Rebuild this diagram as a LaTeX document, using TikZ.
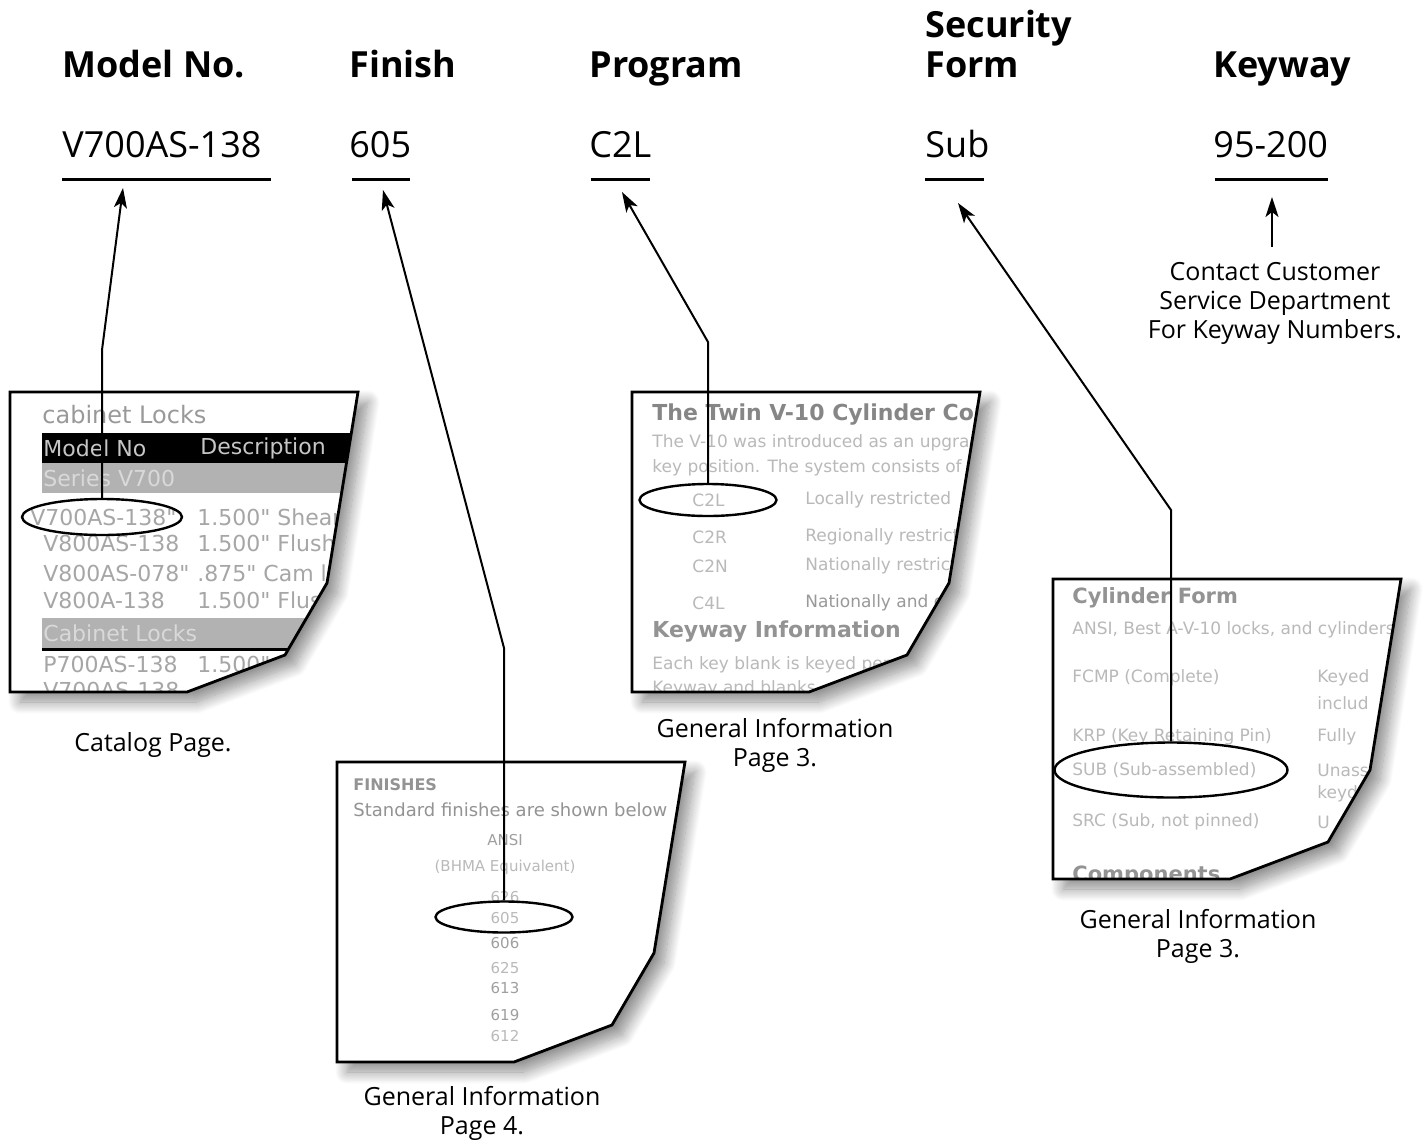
\documentclass[tikz,border=0pt]{standalone}
\usepackage{fontspec}
\setmainfont{Open Sans}
\newfontfamily\pagefont{DejaVu Sans}
\usetikzlibrary{arrows.meta,positioning,shapes.geometric,shadows.blur}
\tikzset{
  heading/.style={anchor=base west, inner sep=0pt, align=left, font=\bfseries\fontsize{18}{20}\selectfont},
  value/.style={anchor=base west, inner sep=0pt, font=\fontsize{18}{20}\selectfont},
  uline/.style={line width=1.5pt},
  caption/.style={align=center, inner sep=0pt, font=\fontsize{12.5}{14.5}\selectfont},
  ring/.style={draw, ellipse, line width=1.2pt, inner sep=0pt},
  flow/.style={-{Stealth[length=10pt, width=6.5pt, inset=2.5pt]}, line width=1pt},
  sheetshadow/.style={fill=white, blur shadow={shadow xshift=5pt, shadow yshift=-5pt, shadow blur radius=6pt, shadow blur steps=16, shadow opacity=45}},
  sheetline/.style={draw=black, line width=1.4pt, line join=miter},
  ptxt/.style={anchor=west, inner sep=0pt, text=gray!55, font=\pagefont\fontsize{8.5}{9}\selectfont},
  phead/.style={ptxt, text=gray!85, font=\pagefont\bfseries\fontsize{10.5}{11}\selectfont}
}
\newcommand\sheetpath{(0,0) -- (348,0) -- (317,191) -- (275,263) -- (177,300) -- (0,300) -- cycle}

\begin{document}
\begin{tikzpicture}[x=0.5pt, y=-0.5pt]
\useasboundingbox (0,0) rectangle (1426,1142);

% headings and values
\node[heading] (hmodel) at (62,77) {Model No.};
\node[heading] (hfinish) at (349,77) {Finish};
\node[heading] (hprog) at (589,77) {Program};
\node[heading] (hsec) at (925,77) {Security\\Form};
\node[heading] (hkey) at (1213,77) {Keyway};

\node[value] (vmodel) at (62,157) {V700AS-138};
\node[value] (vfinish) at (349,157) {605};
\node[value] (vprog) at (589,157) {C2L};
\node[value] (vsec) at (925,157) {Sub};
\node[value] (vkey) at (1213,157) {95-200};

\draw[uline] (62,179) -- (271,179);
\draw[uline] (352,179) -- (410,179);
\draw[uline] (591,179) -- (650,179);
\draw[uline] (925,179) -- (984,179);
\draw[uline] (1215,179) -- (1328,179);

% catalog page
\begin{scope}[shift={(10,392)}]
  \path[sheetshadow] \sheetpath;
  \begin{scope}
    \clip \sheetpath;
    \node[ptxt, text=gray!80, font=\pagefont\fontsize{12}{13}\selectfont] at (32,23) {cabinet Locks};
    \fill[black] (32,41) rectangle (360,71);
    \fill[gray!60] (32,71) rectangle (360,101);
    \fill[gray!60] (32,226) rectangle (360,256);
    \draw[line width=1.5pt] (32,257) -- (360,257);
    \begin{scope}[every node/.style={ptxt, text=gray!70, font=\pagefont\fontsize{11}{12}\selectfont}]
      \node[text=gray!45] at (33,56) {Model No};
      \node[text=gray!45] at (190,56) {Description};
      \node[text=gray!30] at (33,86) {Series V700};
      \node at (20,125) {V700AS-138"};
      \node at (187,125) {1.500" Shear lock};
      \node at (33,151) {V800AS-138};
      \node at (187,151) {1.500" Flush mount};
      \node at (33,181) {V800AS-078"};
      \node at (187,181) {.875" Cam lock};
      \node at (33,208) {V800A-138};
      \node at (187,208) {1.500" Flush};
      \node[text=gray!30] at (33,241) {Cabinet Locks};
      \node at (33,272) {P700AS-138};
      \node at (187,272) {1.500" Flush};
      \node at (33,298) {V700AS-138};
    \end{scope}
  \end{scope}
  \path[sheetline] \sheetpath;
\end{scope}

% program page
\begin{scope}[shift={(632,392)}]
  \path[sheetshadow] \sheetpath;
  \begin{scope}
    \clip \sheetpath;
    \node[phead, text=gray!95, font=\pagefont\bfseries\fontsize{11}{12}\selectfont] at (20,23) {The Twin V-10 Cylinder Concept};
    \node[ptxt] at (20,51) {The V-10 was introduced as an upgrade};
    \node[ptxt] at (20,76) {key position. The system consists of};
    \node[ptxt] at (60,108) {C2L};
    \node[ptxt] at (173,108) {Locally restricted};
    \node[ptxt] at (60,145) {C2R};
    \node[ptxt] at (173,145) {Regionally restricted};
    \node[ptxt] at (60,174) {C2N};
    \node[ptxt] at (173,174) {Nationally restricted};
    \node[ptxt] at (60,211) {C4L};
    \node[ptxt, text=gray!80] at (173,211) {Nationally and globally};
    \node[phead, font=\pagefont\bfseries\fontsize{11}{12}\selectfont] at (20,240) {Keyway Information};
    \node[ptxt] at (20,273) {Each key blank is keyed per program};
    \node[ptxt] at (20,297) {Keyway and blanks};
  \end{scope}
  \path[sheetline] \sheetpath;
\end{scope}

% security form page
\begin{scope}[shift={(1053,579)}]
  \path[sheetshadow] \sheetpath;
  \begin{scope}
    \clip \sheetpath;
    \node[phead] at (19,19) {Cylinder Form};
    \node[ptxt] at (19,51) {ANSI, Best A-V-10 locks, and cylinders};
    \node[ptxt] at (19,99) {FCMP (Complete)};
    \node[ptxt] at (264,99) {Keyed};
    \node[ptxt] at (264,124) {includ};
    \node[ptxt] at (19,158) {KRP (Key Retaining Pin)};
    \node[ptxt] at (264,158) {Fully};
    \node[ptxt] at (19,191) {SUB (Sub-assembled)};
    \node[ptxt] at (264,191) {Unass};
    \node[ptxt] at (264,215) {keyd};
    \node[ptxt] at (19,243) {SRC (Sub, not pinned)};
    \node[ptxt] at (264,243) {U};
    \node[phead] at (19,297) {Components};
  \end{scope}
  \path[sheetline] \sheetpath;
\end{scope}

% finishes page
\begin{scope}[shift={(337,762)}]
  \path[sheetshadow] \sheetpath;
  \begin{scope}
    \clip \sheetpath;
    \node[phead, font=\pagefont\bfseries\fontsize{8}{9}\selectfont] at (16,23) {FINISHES};
    \node[ptxt, text=gray!85, font=\pagefont\fontsize{9}{10}\selectfont] at (16,48) {Standard finishes are shown below};
    \begin{scope}[every node/.style={ptxt, anchor=center, font=\pagefont\fontsize{7.5}{8}\selectfont}]
      \node[text=gray!75] at (168,78) {ANSI};
      \node at (168,105) {(BHMA Equivalent)};
      \node at (168,135) {626};
      \node at (168,156) {605};
      \node[text=gray!75] at (168,181) {606};
      \node at (168,206) {625};
      \node[text=gray!75] at (168,226) {613};
      \node[text=gray!75] at (168,253) {619};
      \node at (168,274) {612};
    \end{scope}
  \end{scope}
  \path[sheetline] \sheetpath;
\end{scope}

% captions
\node[caption] (cap1) at (153,745) {Catalog Page.};
\node[caption] (cap2) at (775,745) {General Information\\Page 3.};
\node[caption] (cap3) at (1198,936) {General Information\\Page 3.};
\node[caption] (cap4) at (482,1113) {General Information\\Page 4.};
\node[caption] (contact) at (1275,303) {Contact Customer\\Service Department\\For Keyway Numbers.};

% circled entries
\node[ring, minimum width=80pt, minimum height=18pt] (mell) at (102,517) {};
\node[ring, minimum width=68.5pt, minimum height=15.5pt] (fell) at (504,917) {};
\node[ring, minimum width=68.5pt, minimum height=16pt] (pell) at (708,500) {};
\node[ring, minimum width=116.5pt, minimum height=27.5pt] (sell) at (1171,770) {};

% arrows
\coordinate (mbend) at (102,350);
\coordinate (mtip) at (123,188);
\coordinate (fbend) at (504,648);
\coordinate (ftip) at (383,190);
\coordinate (pbend) at (708,342);
\coordinate (ptip) at (622,192);
\coordinate (sbend) at (1171,510);
\coordinate (stip) at (958,203);
\coordinate (ktail) at (1272,247);
\coordinate (ktip) at (1272,197);

\draw[flow] (mell.north) -- (mbend) -- (mtip);
\draw[flow] (fell.north) -- (fbend) -- (ftip);
\draw[flow] (pell.north) -- (pbend) -- (ptip);
\draw[flow] (sell.north) -- (sbend) -- (stip);
\draw[flow] (ktail) -- (ktip);
\end{tikzpicture}
\end{document}
